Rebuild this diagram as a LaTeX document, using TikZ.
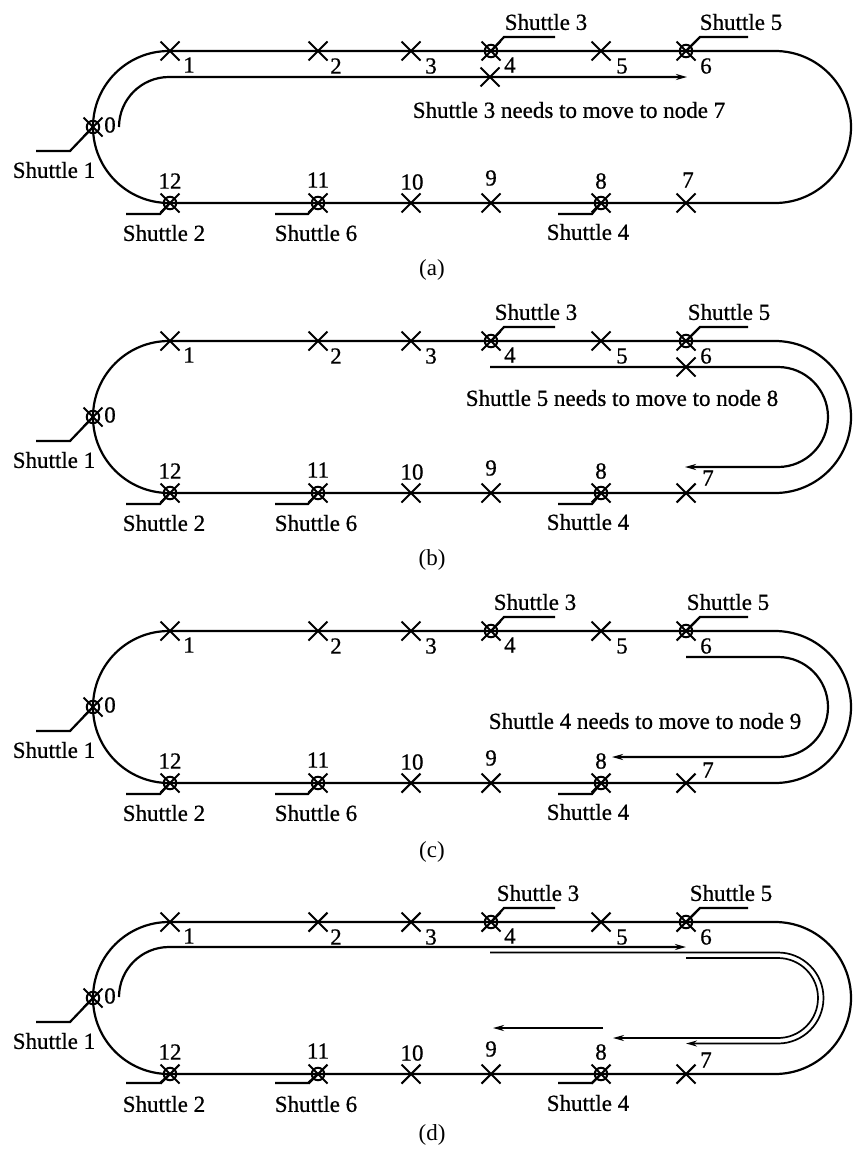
\documentclass[tikz,border=0pt]{standalone}
\usepackage{fontspec}
\setmainfont[FakeBold=0.7]{Liberation Serif}
\newfontfamily\capfont{Liberation Serif}
\usetikzlibrary{arrows.meta,shapes.misc}
\tikzset{
  trk/.style={line width=2.2pt},
  xm/.style={draw, cross out, line width=2.1pt, minimum size=19pt, inner sep=0pt, outer sep=0pt},
  shm/.style={draw, circle, line width=2pt, minimum size=12.5pt, inner sep=0pt},
  lbl/.style={inner sep=0pt, font=\fontsize{23}{27}\selectfont},
  captxt/.style={inner sep=0pt, font=\capfont\fontsize{23}{27}\selectfont},
  mv/.style={line width=2.2pt},
  mvthin/.style={line width=1.7pt},
  arr/.style={-{Stealth[length=11pt,width=6pt]}},
}
% #1 prefix, #2 y shift, #3 x of Shuttle 3 label, #4 x of Shuttle 5 label,
% #5 position of label 7, #6 y of leaders of shuttles 2 and 6, #7 y of leader of shuttle 4
\newcommand\trackpanel[7]{%
\begin{scope}[shift={(0,#2)}]
  \draw[trk, rounded corners=76pt] (93,51) rectangle (851,203);
  \foreach \n/\x/\y in {1/170/51,2/318/51,3/411/51,5/601/51,10/411/203,9/491/203,7/686/203}{
    \node[xm] (#1n\n) at (\x,\y) {};
  }
  \foreach \n/\x/\y in {0/93/127,12/170/203,11/318/203,8/601/203,4/491/51,6/686/51}{
    \node[xm] (#1n\n) at (\x,\y) {};
    \node[shm] (#1s\n) at (\x,\y) {};
  }
  \foreach \t/\x/\y in {0/110/125,1/189/65,2/336/66,3/431/66,4/510/65,5/622/66,6/706/66,
                        12/170/181,11/318/180,10/412/182,9/491/178,8/601/181}{
    \node[lbl] (#1t\t) at (\x,\y) {\t};
  }
  \node[lbl] (#1t7) at (#5) {7};
  % shuttle leaders
  \coordinate (#1la0) at (70,151);  \coordinate (#1lb0) at (36,151);
  \coordinate (#1la12) at (160,#6); \coordinate (#1lb12) at (126,#6);
  \coordinate (#1la11) at (308,#6); \coordinate (#1lb11) at (275,#6);
  \coordinate (#1la8) at (592,#7);  \coordinate (#1lb8) at (558,#7);
  \coordinate (#1la4) at (504,37);  \coordinate (#1lb4) at (555,37);
  \coordinate (#1la6) at (700,37);  \coordinate (#1lb6) at (748,37);
  \foreach \n in {0,12,11,8,4,6}{
    \draw[trk] (#1n\n.center) -- (#1la\n) -- (#1lb\n);
  }
  \node[lbl] (#1S1) at (54,170) {Shuttle 1};
  \node[lbl] (#1S2) at (164,233) {Shuttle 2};
  \node[lbl] (#1S6) at (316,233) {Shuttle 6};
  \node[lbl] (#1S4) at (588,232) {Shuttle 4};
  \node[lbl] (#1S3) at (#3,22) {Shuttle 3};
  \node[lbl] (#1S5) at (#4,22) {Shuttle 5};
\end{scope}}

\begin{document}
\begin{tikzpicture}[x=1pt,y=-1pt]
\useasboundingbox (0,0) rectangle (852,1151);

% ---------- (a)
\trackpanel{a}{0}{546}{741}{688,180}{214}{214}
\node[xm] (ax) at (490,77) {};
\coordinate (as) at (119,127);
\coordinate (ae) at (687,77);
\draw[mv,arr] (as) arc[start angle=180,end angle=270,radius=50] -- (ae);
\node[lbl] (atxt) at (569,110) {Shuttle 3 needs to move to node 7};
\node[captxt] (acap) at (432,270) {(a)};

% ---------- (b)
\trackpanel{b}{290}{536}{729}{708,188}{214}{214}
\node[xm] (bx) at (686,367) {};
\coordinate (bs) at (490,367);
\coordinate (bm) at (778,367);
\coordinate (be) at (685,467);
\draw[mv,arr] (bs) -- (bm) arc[start angle=-90,end angle=90,radius=50] -- (be);
\node[lbl] (btxt) at (622,398) {Shuttle 5 needs to move to node 8};
\node[captxt] (bcap) at (432,560) {(b)};

% ---------- (c)
\trackpanel{c}{580}{535}{728}{708,190}{214}{214}
\coordinate (cs) at (686,657);
\coordinate (cm) at (778,657);
\coordinate (ce) at (612,757);
\draw[mv,arr] (cs) -- (cm) arc[start angle=-90,end angle=90,radius=50] -- (ce);
\node[lbl] (ctxt) at (645,721) {Shuttle 4 needs to move to node 9};
\node[captxt] (ccap) at (432,852) {(c)};

% ---------- (d)
\trackpanel{d}{871}{538}{731}{706,189}{212}{212}
\coordinate (ds) at (119,997);
\coordinate (de) at (686,947);
\draw[mv,arr] (ds) arc[start angle=180,end angle=270,radius=50] -- (de);
\coordinate (d2s) at (490,952.5);
\coordinate (d2m) at (778,952.5);
\coordinate (d2e) at (686,1043.5);
\draw[mvthin,arr] (d2s) -- (d2m) arc[start angle=-90,end angle=90,radius=45.5] -- (d2e);
\coordinate (d3s) at (686,958);
\coordinate (d3m) at (778,958);
\coordinate (d3e) at (613,1038);
\draw[mvthin,arr] (d3s) -- (d3m) arc[start angle=-90,end angle=90,radius=40] -- (d3e);
\coordinate (d4s) at (603,1028);
\coordinate (d4e) at (493,1028);
\draw[mv,arr] (d4s) -- (d4e);
\node[captxt] (dcap) at (432,1135) {(d)};
\end{tikzpicture}
\end{document}
